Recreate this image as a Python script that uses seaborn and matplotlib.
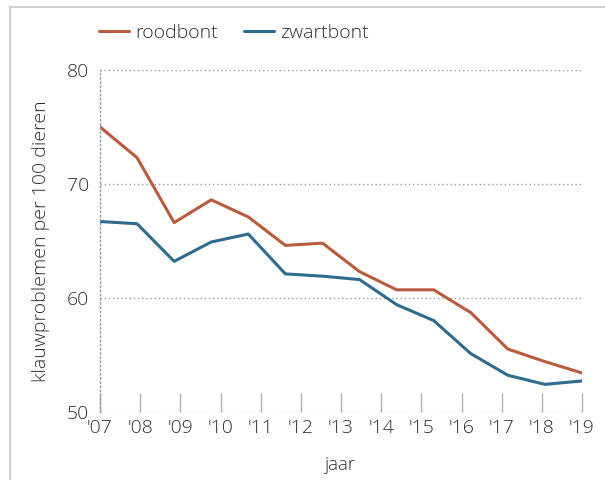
import numpy as np
import pandas as pd
import matplotlib.pyplot as plt
import seaborn as sns
from matplotlib.lines import Line2D

roodbont = [75.0, 72.3, 66.6, 68.6, 67.1, 64.6, 64.8, 62.3, 60.7, 60.7, 58.7, 55.5, 54.4, 53.4]
zwartbont = [66.7, 66.5, 63.2, 64.9, 65.6, 62.1, 61.9, 61.6, 59.4, 58.0, 55.1, 53.2, 52.4, 52.7]
years = list(range(2007, 2020))
year_labels = ["'07", "'08", "'09", "'10", "'11", "'12", "'13", "'14", "'15", "'16", "'17", "'18", "'19"]
y_ticks = [50, 60, 70, 80]

x = np.linspace(2007, 2019, len(roodbont))
df = pd.DataFrame({"jaar": np.concatenate([x, x]),
                   "waarde": roodbont + zwartbont,
                   "ras": ["roodbont"] * len(roodbont) + ["zwartbont"] * len(zwartbont)})

sns.set_style("white")
plt.rcParams['font.family'] = ['Open Sans', 'DejaVu Sans']
txt = '#2e2e2e'
grid = '#9a9a9a'

fig = plt.figure(figsize=(6.05, 4.80), dpi=100)
ax = fig.add_axes([100 / 605, 1 - 411.7 / 480, 482 / 605, 341.7 / 480])
sns.lineplot(data=df, x="jaar", y="waarde", hue="ras",
             palette={"roodbont": "#b85c3e", "zwartbont": "#2f6b8e"},
             linewidth=2.2, ax=ax, legend=False)

ax.set_xlim(2007, 2019)
ax.set_ylim(50, 80)
ax.set_yticks(y_ticks)
ax.set_yticklabels([str(v) for v in y_ticks], fontsize=14, color=txt, fontweight='light')
ax.set_xticks(years)
ax.set_xticklabels(year_labels, fontsize=14, color=txt, fontweight='light')
ax.tick_params(axis='x', bottom=True, direction='in', length=14, width=1, color='#b0b0b0', pad=5)
ax.tick_params(axis='y', left=False, length=0, pad=8)
for v in y_ticks:
    ax.axhline(v, color=grid, linestyle=(0, (1, 2)), linewidth=1, zorder=0)
for s in ['top', 'right', 'bottom']:
    ax.spines[s].set_visible(False)
ax.spines['left'].set_linestyle((0, (1, 2)))
ax.spines['left'].set_color(grid)
ax.spines['left'].set_linewidth(1)
ax.set_xlabel('jaar', fontsize=13.5, color=txt, fontweight='light', labelpad=14)
ax.set_ylabel('klauwproblemen per 100 dieren', fontsize=14, color=txt, fontweight='light', labelpad=12)

handles = [Line2D([], [], color="#b85c3e", lw=2.2), Line2D([], [], color="#2f6b8e", lw=2.2)]
fig.legend(handles, ['roodbont', 'zwartbont'], loc='center left',
           bbox_to_anchor=(81 / 605, 1 - 33 / 480), ncol=2, frameon=False,
           handlelength=1.55, handletextpad=0.36, columnspacing=1.3,
           prop={'size': 14, 'weight': 'light'}, labelcolor=txt)

# light frame along top and left edge
fig.add_artist(Line2D([10 / 605, 1], [1 - 7 / 480, 1 - 7 / 480], color='#d0d0d0', lw=1.5))
fig.add_artist(Line2D([10 / 605, 10 / 605], [0, 1 - 7 / 480], color='#d0d0d0', lw=1.5))

fig.savefig('out.png', dpi=100)
